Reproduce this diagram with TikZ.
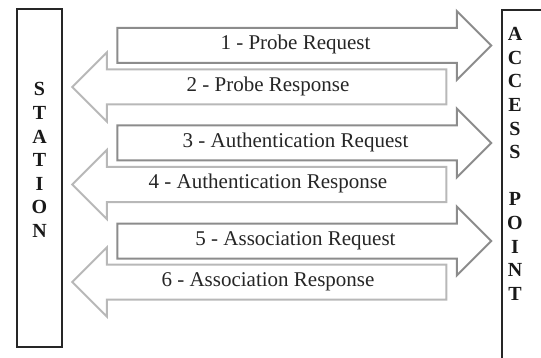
\documentclass[tikz,border=0pt]{standalone}
\usepackage{fontspec}
\setmainfont{Liberation Serif}
\usetikzlibrary{shapes.arrows}
\tikzstyle{msgarrow} = [single arrow, fill=white, line width=1pt,
minimum height=187pt, single arrow head extend=8.5pt, single arrow tip angle=90,
text height=7pt, text depth=2.5pt, inner ysep=3.5pt, inner xsep=0pt,
font=\fontsize{10.5}{12}\selectfont, text=black!85]
\tikzstyle{reqarrow} = [msgarrow, draw=black!45]
\tikzstyle{resparrow} = [msgarrow, draw=black!28, shape border rotate=180]
\tikzstyle{unitbox} = [draw=black!85, line width=0.8pt, rectangle, inner sep=0pt]
\tikzstyle{letters} = [align=center, inner sep=0pt,
font=\fontsize{10}{11.8}\selectfont\bfseries, text=black!90]

\begin{document}
\begin{tikzpicture}[x=0.5pt, y=-0.5pt]
		\useasboundingbox (0,0) rectangle (541,358);
		\clip (0,0) rectangle (541,358);
		% the two ends
		\node [unitbox, minimum width=22.5pt, minimum height=169pt] (station) at (39.5,178) {};
		\node [letters] (stationtext) at (39.5,160) {S\\T\\A\\T\\I\\O\\N};
		\node [unitbox, minimum width=60pt, minimum height=200pt, anchor=north west] (ap) at (501,9) {};
		\node [letters, anchor=north] (aptext) at (515,27) {A\\C\\C\\E\\S\\S\\[11.8pt]P\\O\\I\\N\\T};
		% the messages
		\node [reqarrow] (probereq) at (295.5,45.5) {1 - Probe Request};
		\node [resparrow] (proberesp) at (268,87) {2 - Probe Response};
		\node [reqarrow] (authreq) at (295.5,143) {3 - Authentication Request};
		\node [resparrow] (authresp) at (268,184.5) {4 - Authentication Response};
		\node [reqarrow] (assocreq) at (295.5,241) {5 - Association Request};
		\node [resparrow] (assocresp) at (268,282) {6 - Association Response};
\end{tikzpicture}
\end{document}
